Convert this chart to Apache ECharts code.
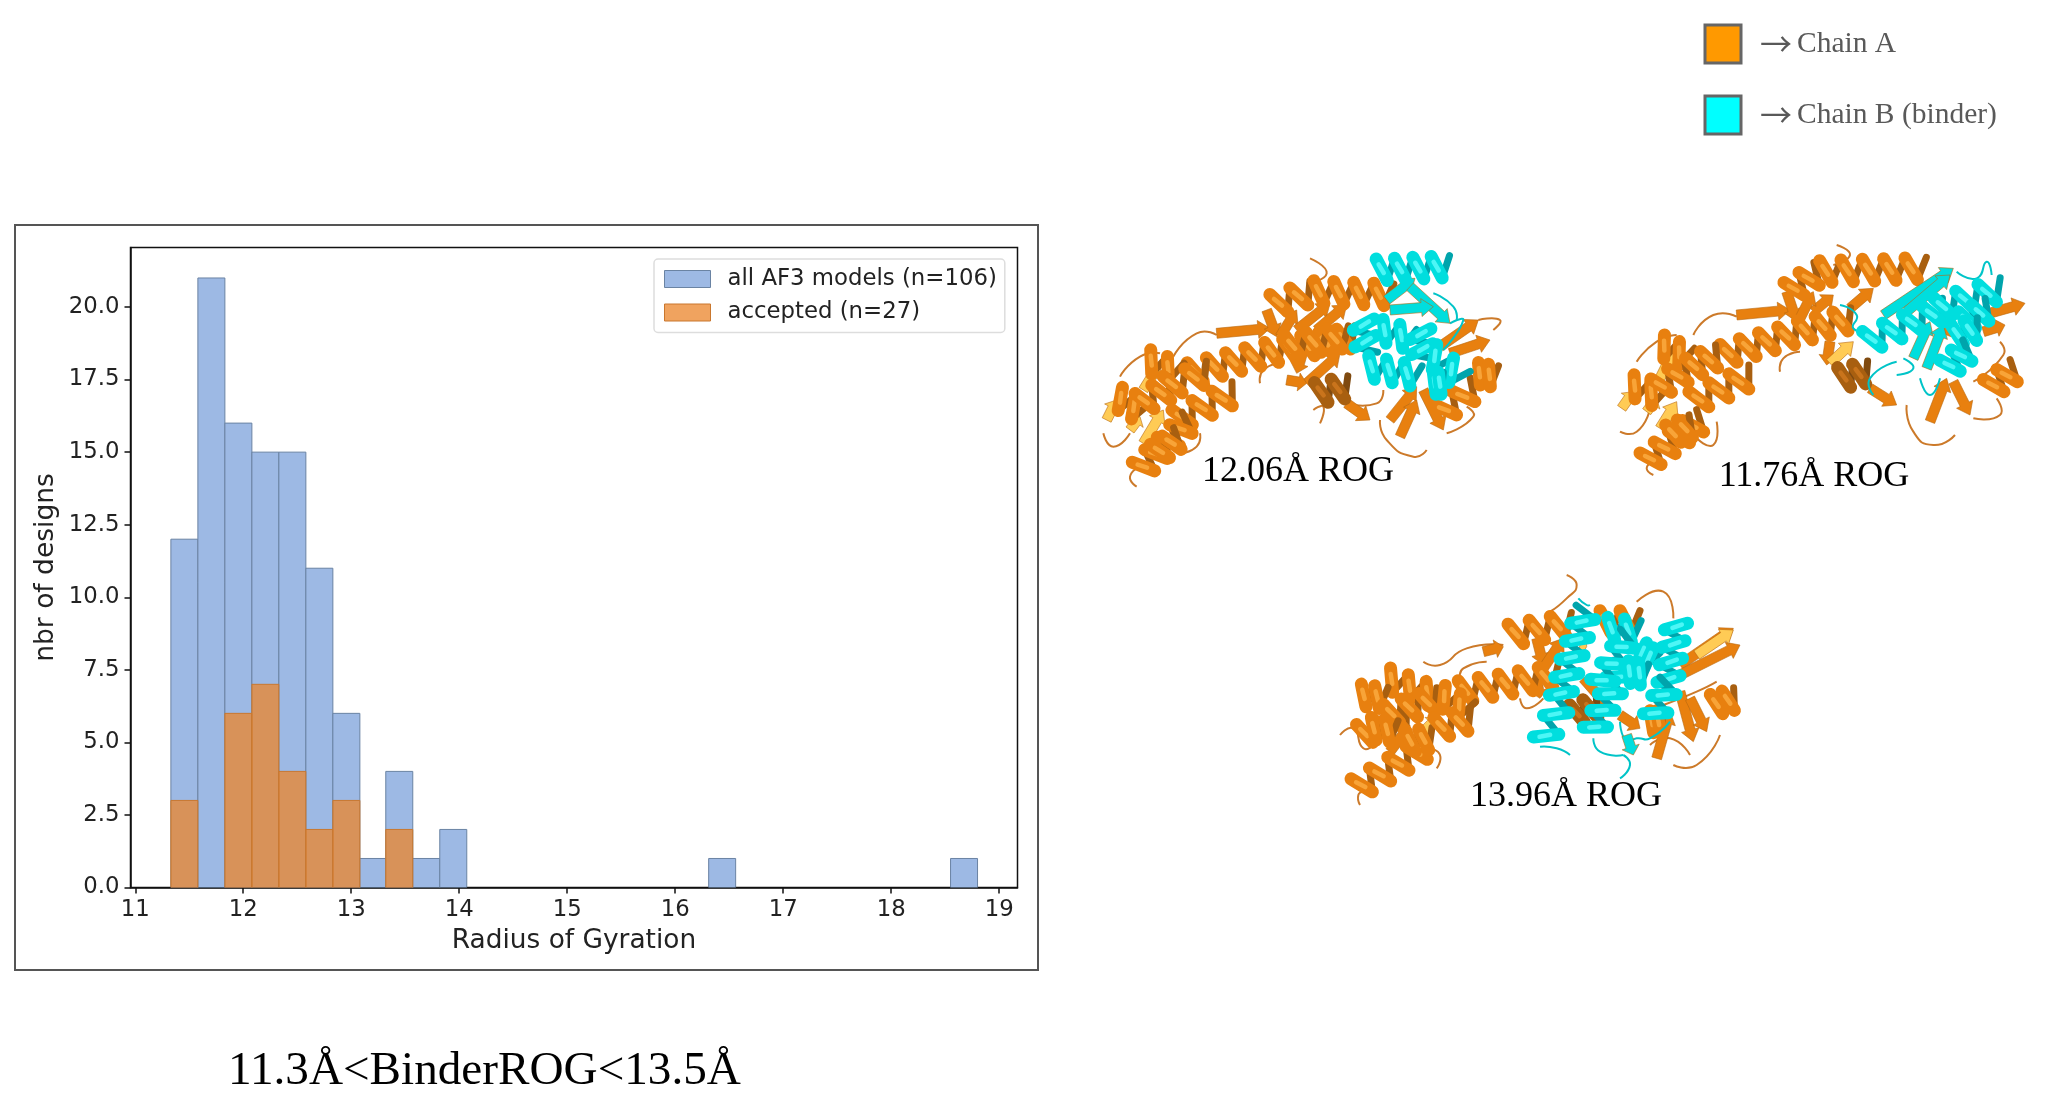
<!DOCTYPE html>
<html><head><meta charset="utf-8"><style>html,body{margin:0;padding:0;background:#fff}#c{width:2048px;height:1116px}</style>
<script src="https://cdn.jsdelivr.net/npm/echarts@6/dist/echarts.min.js"></script></head><body><div id="c"></div>
<script>
const binStarts=[11.33,11.58,11.83,12.08,12.33,12.58,12.83,13.08,13.32,13.57,13.82,14.07,14.32,14.57,14.82,15.07,15.32,15.57,15.81,16.06,16.31,16.56,16.81,17.06,17.31,17.56,17.81,18.05,18.30,18.55];
const binEnds=[11.58,11.83,12.08,12.33,12.58,12.83,13.08,13.32,13.57,13.82,14.07,14.32,14.57,14.82,15.07,15.32,15.57,15.81,16.06,16.31,16.56,16.81,17.06,17.31,17.56,17.81,18.05,18.30,18.55,18.80];
const allModels=[12,21,16,15,15,11,6,1,4,1,2,0,0,0,0,0,0,0,0,0,1,0,0,0,0,0,0,0,0,1];
const accepted=[3,0,6,7,4,2,3,0,2,0,0,0,0,0,0,0,0,0,0,0,0,0,0,0,0,0,0,0,0,0];
const xTicks=[11,12,13,14,15,16,17,18,19];
const yTicks=[0,2.5,5,7.5,10,12.5,15,17.5,20];
const seriesNames=['all AF3 models (n=106)','accepted (n=27)'];
const chainNames=['Chain A','Chain B (binder)'];
const rogLabels=['12.06Å ROG','11.76Å ROG','13.96Å ROG'];
const figureCaption='11.3Å<BinderROG<13.5Å';

/* Ribbon sketches of the three structures (illustration, not data); units are 1/3 px from each origin */
const proteins=[
{o:[1100,240],
 helixA:[[520,195,640,155],[640,155,880,165],[270,400,500,340],[500,340,770,290],[560,320,750,290],[140,360,240,400],[50,470,130,520],[120,490,220,440],[200,440,330,395],[230,540,410,455],[120,690,270,540],[170,640,240,590],[1020,520,1130,440],[1130,400,1190,410]],
 coilA:[[650,460,750,440]],
 sheetA:[[350,280,510,265],[500,210,530,290],[540,290,590,210],[590,270,690,190],[650,270,740,195],[620,430,720,340],[610,330,590,400],[560,420,620,430],[740,490,810,540],[870,540,950,440],[900,590,950,480],[970,450,1030,570],[1020,320,1135,240],[1050,340,1170,300]],
 yellowA:[[130,450,180,370],[20,540,50,480],[130,610,190,510],[90,570,120,530]],
 loopA:[[180,340,120,350,60,410],[10,580,40,620,90,580],[350,285,290,280,220,350],[630,55,680,100,620,130],[480,430,490,390,540,370],[660,550,670,500,640,510],[840,540,860,600,940,650,980,630],[1135,240,1200,240,1180,270],[740,490,830,490,850,450],[300,580,290,620,240,640],[1100,500,1120,530,1040,580],[110,740,90,710,120,680]],
 helixB:[[830,90,1050,80],[790,240,800,340],[840,270,940,300],[960,270,970,360],[800,380,960,410],[990,340,1090,420],[1000,430,1030,430]],
 sheetB:[[860,180,945,115],[930,140,1050,250],[870,210,1000,200]],
 loopB:[[1050,250,1090,240,1030,330],[1000,160,1060,200,1070,240]]},
{o:[1620,235],
 helixA:[[510,170,600,110],[600,110,920,100],[310,360,540,290],[540,290,700,250],[120,330,210,370],[30,450,130,490],[110,460,210,400],[210,400,300,360],[220,500,400,420],[80,680,250,550],[150,600,220,570],[1110,460,1190,400]],
 coilA:[[660,430,750,410]],
 sheetA:[[350,240,510,225],[500,170,530,260],[580,230,640,180],[540,250,580,170],[690,220,760,160],[630,320,620,390],[750,460,830,510],[930,560,980,430],[1000,440,1050,540],[1090,240,1215,205],[1090,290,1155,270],[980,300,1000,250]],
 yellowA:[[120,430,165,340],[5,520,40,470],[120,580,170,500],[80,530,110,490],[630,385,700,320]],
 loopA:[[170,300,110,320,50,380],[0,590,50,590,90,520],[350,245,280,240,220,300],[650,30,690,60,640,90],[480,410,490,370,540,350],[860,510,880,590,940,630,1005,600],[1140,320,1150,360,1060,440],[1060,550,1140,540,1130,490],[100,720,80,700,100,680],[290,560,280,630,230,610]],
 helixB:[[740,320,980,220],[950,220,1150,160],[1030,260,1110,220],[1000,300,1080,280],[980,400,1050,340]],
 sheetB:[[790,240,1000,100],[860,230,990,120],[880,370,930,260],[920,400,970,270]],
 loopB:[[660,210,710,240,700,280,750,290],[760,480,750,430,830,380],[830,420,880,400,850,370],[900,430,930,480,960,430],[1010,110,1070,130,1100,80,1115,120]]},
{o:[1330,565],
 helixA:[[540,210,730,175],[810,170,930,170],[390,380,690,330],[170,340,330,400],[90,390,170,400],[90,510,240,460],[170,450,330,400],[120,490,200,500],[330,390,420,440],[80,670,300,540],[230,530,310,520],[320,490,430,460],[960,470,1000,470],[1150,420,1220,400]],
 coilA:[[730,450,810,420]],
 sheetA:[[460,260,520,245],[620,220,640,300],[640,310,700,220],[620,340,630,400],[180,560,240,480],[1050,300,1210,190],[1050,330,1230,240],[1050,380,1090,530],[1080,400,1130,500],[980,580,1020,440],[870,450,930,490],[760,340,830,420]],
 yellowA:[[280,500,320,460],[1100,270,1210,195],[750,240,770,245]],
 loopA:[[30,510,70,490,100,550,130,540],[520,240,410,250,330,300,280,290],[470,290,400,310,390,340],[660,140,710,100,740,60,710,30],[920,110,1000,80,1030,160],[570,400,590,430,640,400],[1030,600,1100,600,1170,510],[1000,420,1100,380,1160,350],[1080,570,1020,520,960,540],[320,610,330,570,300,550],[90,720,85,690,100,680]],
 helixB:[[640,530,700,400],[690,400,770,130],[790,500,880,300],[830,190,930,200],[810,360,900,210],[930,260,970,290],[1040,170,1010,380],[970,460,1020,350],[890,320,950,330]],
 sheetB:[[890,510,910,570]],
 loopB:[[630,545,680,550,720,570],[790,520,810,560,880,570],[880,570,900,600,870,640],[870,470,890,530,920,520,960,520,1020,470],[745,100,770,120,780,120]]}
];
const orangeHelix={front:'#E8800F',hi:'#F8A438',back:'#A85F10'};
const brownHelix={front:'#A85F10',hi:'#C9741C',back:'#7F4A10'};
const cyanHelix={front:'#00DEDE',hi:'#4DF6F6',back:'#00A4AC'};

const line=(p,q,c,w)=>({type:'line',silent:true,shape:{x1:p[0],y1:p[1],x2:q[0],y2:q[1]},style:{stroke:c,lineWidth:w,lineCap:'round'}});
function helixEls(o,h,pal){
  const a=[o[0]+h[0]/3,o[1]+h[1]/3],b=[o[0]+h[2]/3,o[1]+h[3]/3];
  const len=Math.hypot(b[0]-a[0],b[1]-a[1]),ux=(b[0]-a[0])/len,uy=(b[1]-a[1])/len;
  const turns=Math.max(2,Math.round(len/20)),pitch=len/turns,r=11,back=[],front=[];
  const at=(t,s)=>[a[0]+ux*t-uy*s,a[1]+uy*t+ux*s];
  for(let i=0;i<turns;i++){
    const t=pitch*i;
    back.push(line(at(t+pitch*.55,r),at(t+pitch,-r),pal.back,7));
    front.push(line(at(t,-r),at(t+pitch*.55,r),pal.front,13));
    front.push(line(at(t+pitch*.12,-r*.5),at(t+pitch*.38,r*.3),pal.hi,4.5));
  }
  return back.concat(front);
}
function sheetEl(o,s,col){
  const a=[o[0]+s[0]/3,o[1]+s[1]/3],b=[o[0]+s[2]/3,o[1]+s[3]/3];
  const len=Math.hypot(b[0]-a[0],b[1]-a[1]),ux=(b[0]-a[0])/len,uy=(b[1]-a[1])/len,w=5,hw=9,hl=Math.min(12,len*.4);
  const n=(t,d)=>[a[0]+ux*t-uy*d,a[1]+uy*t+ux*d];
  return {type:'polygon',silent:true,shape:{points:[n(0,-w),n(len-hl,-w),n(len-hl,-hw),b,n(len-hl,hw),n(len-hl,w),n(0,w)]},style:{fill:col,stroke:'#B8680F',lineWidth:0.6}};
}
function loopEl(o,c,col){
  const p=[];for(let i=0;i<c.length;i+=2)p.push([o[0]+c[i]/3,o[1]+c[i+1]/3]);
  return {type:'polyline',silent:true,shape:{points:p,smooth:0.6},style:{stroke:col,fill:null,lineWidth:2}};
}
const proteinEls=[];
proteins.forEach(P=>{
  P.loopA.forEach(l=>proteinEls.push(loopEl(P.o,l,'#CC7A2A')));
  P.sheetA.forEach(s=>proteinEls.push(sheetEl(P.o,s,'#E8800F')));
  P.yellowA.forEach(s=>proteinEls.push(sheetEl(P.o,s,'#FFCB55')));
  P.coilA.forEach(h=>proteinEls.push(...helixEls(P.o,h,brownHelix)));
  P.helixA.forEach(h=>proteinEls.push(...helixEls(P.o,h,orangeHelix)));
  P.loopB.forEach(l=>proteinEls.push(loopEl(P.o,l,'#00C4C8')));
  P.sheetB.forEach(s=>proteinEls.push(sheetEl(P.o,s,'#00DEDE')));
  P.helixB.forEach(h=>proteinEls.push(...helixEls(P.o,h,cyanHelix)));
});
const serif='"Liberation Serif",serif';
const txt=(t,x,y,size,fill,align,fam)=>({type:'text',silent:true,x,y,style:{text:t,font:size+'px '+(fam||serif),fill,textAlign:align||'center',textVerticalAlign:'middle'}});

const chart=echarts.init(document.getElementById('c'),null,{renderer:'canvas'});
const sans='"DejaVu Sans",sans-serif';
const barItem=(p,api)=>{
  const s=api.coord([api.value(0),api.value(2)]),e=api.coord([api.value(1),0]);
  return {type:'rect',shape:{x:s[0],y:s[1],width:e[0]-s[0],height:e[1]-s[1]},style:api.style()};
};
const toData=v=>v.map((c,i)=>[binStarts[i],binEnds[i],c]).filter(d=>d[2]>0);
chart.setOption({
  animation:false,backgroundColor:'#fff',
  grid:{left:130.5,right:2048-1017.5,top:247.5,bottom:1116-887.5,show:true,borderColor:'#111',borderWidth:1.5,backgroundColor:'transparent'},
  legend:{show:true,orient:'vertical',left:654,top:259,padding:[8,8,8,10],icon:'rect',itemWidth:46,itemHeight:17,itemGap:9.5,itemStyle:{borderWidth:1},
    backgroundColor:'#fff',borderColor:'#ddd',borderWidth:1.5,borderRadius:4,selectedMode:false,
    textStyle:{fontFamily:sans,fontSize:22.8,color:'#222',lineHeight:24,padding:[0,0,0,12]},data:seriesNames},
  xAxis:{type:'value',min:10.956,max:19.17,name:'Radius of Gyration',nameLocation:'middle',nameGap:41,
    nameTextStyle:{fontFamily:sans,fontSize:26.4,color:'#222'},splitLine:{show:false},
    axisLine:{show:true,onZero:false,lineStyle:{color:'#111',width:1.5}},
    axisTick:{show:true,length:6,customValues:xTicks,lineStyle:{color:'#111',width:1.5}},
    axisLabel:{fontFamily:sans,fontSize:22.8,color:'#222',margin:11,customValues:xTicks}},
  yAxis:{type:'value',min:0,max:22.05,name:'nbr of designs',nameLocation:'middle',nameGap:71,
    nameTextStyle:{fontFamily:sans,fontSize:26.5,color:'#222'},splitLine:{show:false},
    axisLine:{show:true,lineStyle:{color:'#111',width:1.5}},
    axisTick:{show:true,length:6,customValues:yTicks,lineStyle:{color:'#111',width:1.5}},
    axisLabel:{fontFamily:sans,fontSize:22.8,color:'#222',margin:11,customValues:yTicks,formatter:v=>Number(v).toFixed(1)}},
  series:[
    {name:seriesNames[0],type:'custom',renderItem:barItem,encode:{x:[0,1],y:2},data:toData(allModels),clip:true,
     itemStyle:{color:'#9DB9E4',borderColor:'#6a83a3',borderWidth:1}},
    {name:seriesNames[1],type:'custom',renderItem:barItem,encode:{x:[0,1],y:2},data:toData(accepted),clip:true,
     itemStyle:{color:'rgba(235,133,43,0.755)',borderColor:'#c9772e',borderWidth:1}}
  ],
  graphic:{elements:[
    {type:'rect',silent:true,z:-10,shape:{x:15,y:225,width:1023,height:745},style:{fill:'none',stroke:'#555',lineWidth:2}},
    ...proteinEls,
    txt(rogLabels[0],1298,472,36,'#000'),txt(rogLabels[1],1814,477,36,'#000'),txt(rogLabels[2],1566,796.5,36,'#000'),
    txt(figureCaption,484.5,1072,47.2,'#000'),
    {type:'rect',silent:true,shape:{x:1705,y:25,width:36,height:38},style:{fill:'#FF9900',stroke:'#666',lineWidth:3}},
    {type:'rect',silent:true,shape:{x:1705,y:96,width:36,height:38},style:{fill:'#00FFFF',stroke:'#666',lineWidth:3}},
    txt('→',1760,44,32,'#595959','left','"Noto Sans CJK SC",sans-serif'),txt('→',1760,115,32,'#595959','left','"Noto Sans CJK SC",sans-serif'),
    txt(chainNames[0],1797,44,29.5,'#595959','left'),txt(chainNames[1],1797,115,29.5,'#595959','left')
  ]}
});
</script></body></html>
